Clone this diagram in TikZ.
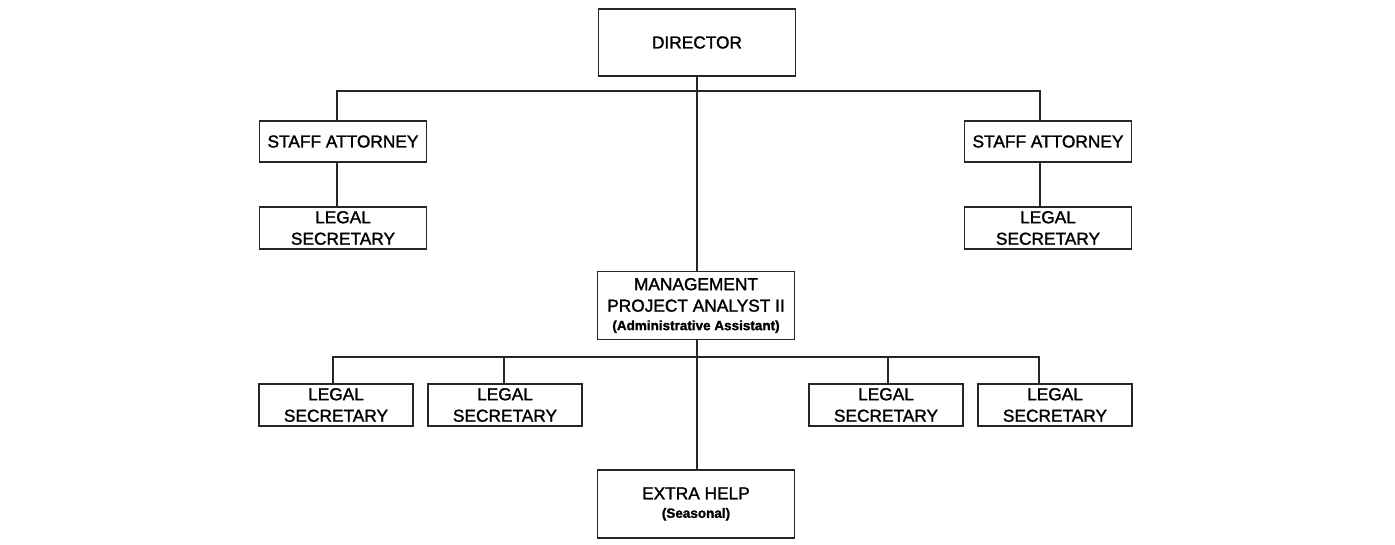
\documentclass[tikz,border=0pt]{standalone}
\usepackage{fontspec}
\setmainfont{Liberation Sans}
\newfontfamily\boxfont[FakeBold=1.5]{Liberation Sans}
\begin{document}
\begin{tikzpicture}[x=1pt,y=-1pt,
  box/.style={draw=black!85, line width=1.9pt, fill=white, align=center, inner sep=0pt,
    font=\boxfont\fontsize{17.3}{21.5}\selectfont},
  conn/.style={draw=black!85, line width=1.9pt},
  sub/.style={font=\fontsize{13.5}{17}\selectfont\bfseries}]
\fill[white] (0,0) rectangle (1395,544);
\useasboundingbox (0,0) rectangle (1395,544);

\node[box, minimum width=197pt, minimum height=67pt] (dir) at (697,42.5) {DIRECTOR};
\node[box, minimum width=167pt, minimum height=41pt] (sa1) at (343,141.5) {STAFF ATTORNEY};
\node[box, minimum width=167pt, minimum height=41pt] (sa2) at (1048,141.5) {STAFF ATTORNEY};
\node[box, minimum width=167pt, minimum height=42pt] (ls1) at (343,228) {LEGAL\\SECRETARY};
\node[box, minimum width=167pt, minimum height=42pt] (ls2) at (1048,228) {LEGAL\\SECRETARY};
\node[box, minimum width=197pt, minimum height=68pt] (mpa) at (696,305.5) {MANAGEMENT\\PROJECT ANALYST II\\[-3pt]{\fontsize{13.5}{17}\selectfont\bfseries (Administrative Assistant)}};
\node[box, minimum width=154pt, minimum height=42pt] (b1) at (336,405) {LEGAL\\SECRETARY};
\node[box, minimum width=154pt, minimum height=42pt] (b2) at (505,405) {LEGAL\\SECRETARY};
\node[box, minimum width=154pt, minimum height=42pt] (b3) at (886,405) {LEGAL\\SECRETARY};
\node[box, minimum width=154pt, minimum height=42pt] (b4) at (1055,405) {LEGAL\\SECRETARY};
\node[box, minimum width=197pt, minimum height=68pt] (ex) at (696,504) {EXTRA HELP\\[-3pt]{\fontsize{13.5}{17}\selectfont\bfseries (Seasonal)}};

\coordinate (t1) at (337,91);
\coordinate (t2) at (1040,91);
\coordinate (c) at (697,91);
\coordinate (u1) at (333,357);
\coordinate (u2) at (504,357);
\coordinate (u3) at (888,357);
\coordinate (u4) at (1039,357);

\draw[conn] (t1 |- sa1.north) -- (t1) -- (t2) -- (t2 |- sa2.north);
\draw[conn] (c |- dir.south) -- (c |- mpa.north);
\draw[conn] (t1 |- sa1.south) -- (t1 |- ls1.north);
\draw[conn] (t2 |- sa2.south) -- (t2 |- ls2.north);
\draw[conn] (u1 |- b1.north) -- (u1) -- (u4) -- (u4 |- b4.north);
\draw[conn] (u2) -- (u2 |- b2.north);
\draw[conn] (u3) -- (u3 |- b3.north);
\draw[conn] (c |- mpa.south) -- (c |- ex.north);
\end{tikzpicture}
\end{document}
